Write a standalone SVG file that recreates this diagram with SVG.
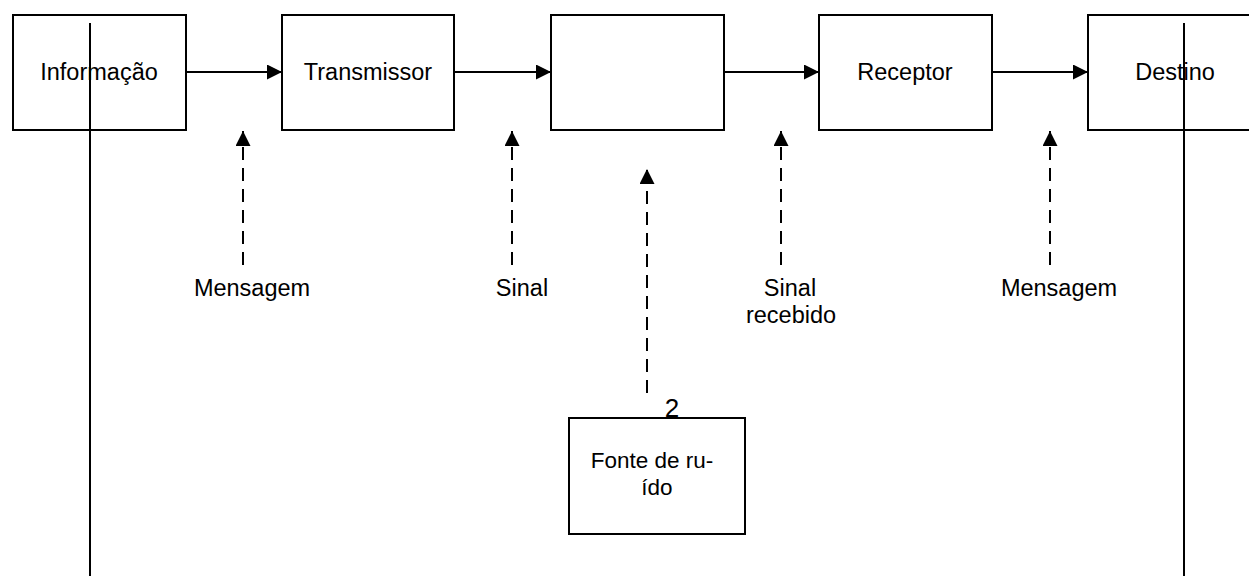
<svg xmlns="http://www.w3.org/2000/svg" width="1249" height="576" viewBox="0 0 1249 576">
<style>
.box{fill:#fff;stroke:#000;stroke-width:2}
.t{font-family:"Liberation Sans",Arial,sans-serif;font-size:23.5px;fill:#000;text-anchor:middle}
.ln{stroke:#000;stroke-width:2;fill:none}
.dash{stroke:#000;stroke-width:2;fill:none;stroke-dasharray:13 8}
</style>
<defs>
<marker id="ah" viewBox="0 0 15 15" refX="15" refY="7.5" markerWidth="15" markerHeight="15" markerUnits="userSpaceOnUse" orient="auto">
<path d="M0,0 L15,7.5 L0,15 Z" fill="#000"/>
</marker>
</defs>
<rect width="1249" height="576" fill="#fff"/>
<g id="informacao"><rect class="box" x="13" y="15" width="173" height="115"/><text class="t" x="99" y="80">Informação</text></g>
<g id="transmissor"><rect class="box" x="282" y="15" width="172" height="115"/><text class="t" x="368" y="80">Transmissor</text></g>
<g id="canal"><rect class="box" x="551" y="15" width="173" height="115"/></g>
<g id="receptor"><rect class="box" x="819" y="15" width="173" height="115"/><text class="t" x="905" y="80">Receptor</text></g>
<g id="destino"><rect class="box" x="1088" y="15" width="174" height="115"/><text class="t" x="1175" y="80">Destino</text></g>
<g id="fonte-ruido"><rect class="box" x="569" y="418" width="176" height="116"/><text class="t" x="652" y="468" style="font-size:22.5px">Fonte de ru-</text><text class="t" x="657" y="495" style="font-size:22.5px">ído</text></g>
<g id="label-2"><text class="t" x="672" y="417" style="font-size:26px">2</text></g>
<g id="connectors">
<line class="ln" x1="90" y1="23" x2="90" y2="576"/>
<line class="ln" x1="1184" y1="23" x2="1184" y2="576"/>
<line class="ln" x1="186" y1="72" x2="282" y2="72" marker-end="url(#ah)"/>
<line class="ln" x1="454" y1="72" x2="551" y2="72" marker-end="url(#ah)"/>
<line class="ln" x1="724" y1="72" x2="819" y2="72" marker-end="url(#ah)"/>
<line class="ln" x1="992" y1="72" x2="1088" y2="72" marker-end="url(#ah)"/>
<line class="dash" x1="243" y1="265" x2="243" y2="131" marker-end="url(#ah)"/>
<line class="dash" x1="512" y1="265" x2="512" y2="131" marker-end="url(#ah)"/>
<line class="dash" x1="781" y1="265" x2="781" y2="131" marker-end="url(#ah)"/>
<line class="dash" x1="1050" y1="265" x2="1050" y2="131" marker-end="url(#ah)"/>
<line class="dash" x1="647" y1="393" x2="647" y2="169" marker-end="url(#ah)"/>
</g>
<g id="labels">
<text class="t" x="252" y="296">Mensagem</text>
<text class="t" x="522" y="296">Sinal</text>
<text class="t" x="790" y="296">Sinal</text>
<text class="t" x="791" y="323">recebido</text>
<text class="t" x="1059" y="296">Mensagem</text>
</g>
</svg>
